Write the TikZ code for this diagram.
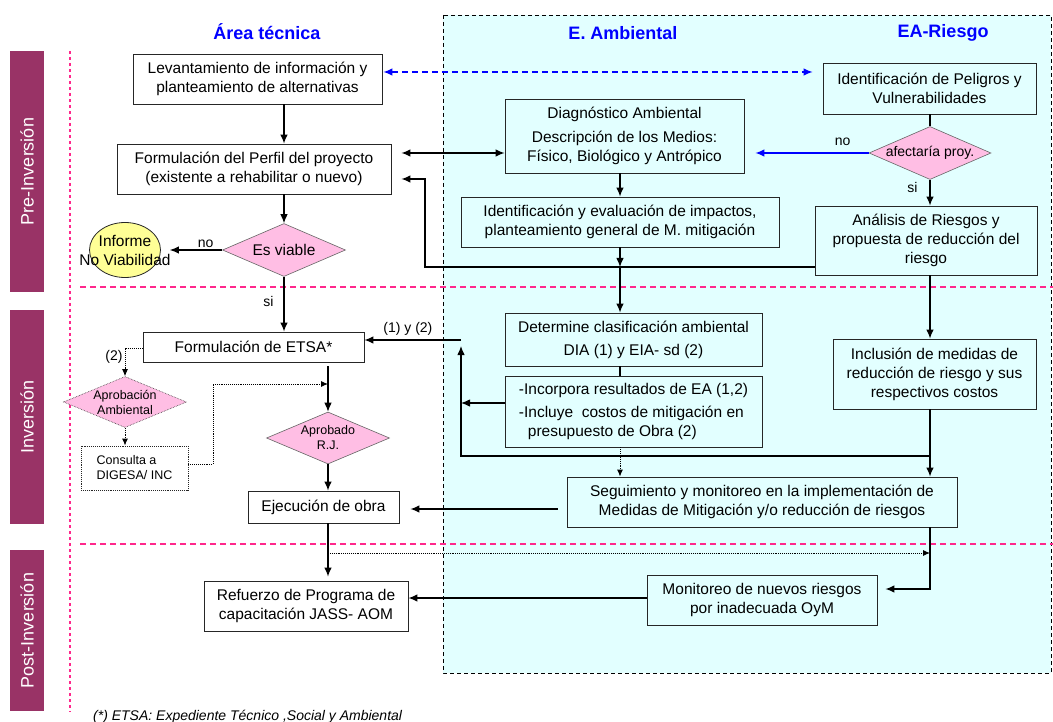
\documentclass[tikz,border=0pt]{standalone}
\usepackage{fontspec}
\setmainfont{Liberation Sans}
\usetikzlibrary{shapes.geometric,positioning,arrows.meta}
\definecolor{mymaroon}{RGB}{153,51,102}
\definecolor{mypink}{RGB}{255,190,228}
\definecolor{mycyan}{RGB}{226,255,255}
\definecolor{myyellow}{RGB}{255,255,150}
\definecolor{mydash}{RGB}{255,40,140}
\definecolor{myblue}{RGB}{0,0,255}
\newcommand{\boxfont}{\fontsize{15.5}{19}\selectfont}
\newcommand{\smallfont}{\fontsize{12.5}{15}\selectfont}
\newcommand{\lblfont}{\fontsize{14}{16}\selectfont}

\begin{document}
\begin{tikzpicture}[x=1pt,y=-1pt,inner sep=0pt,font=\boxfont]
\tikzstyle{box}=[rectangle, draw=black!85, line width=0.9pt, fill=white, align=center]
\tikzstyle{cbox}=[box, fill=mycyan]
\tikzstyle{decision}=[diamond, aspect=2.4, draw=black!60, line width=0.6pt, fill=mypink, align=center]
\tikzstyle{connect}=[-{Latex[length=9pt,width=7.5pt]}, line width=1.1pt]
\tikzstyle{twoway}=[{Latex[length=9pt,width=7.5pt]}-{Latex[length=9pt,width=7.5pt]}, line width=1.1pt]
\tikzstyle{dotconnect}=[-{Latex[length=7pt,width=6pt]}, line width=0.9pt, densely dotted]
\tikzstyle{band}=[rectangle, fill=mymaroon, text=white, rotate=90, minimum height=34pt, font=\fontsize{18}{20}\selectfont]
\tikzstyle{head}=[text=myblue, font=\fontsize{18}{20}\selectfont\bfseries]
\tikzstyle{lbl}=[font=\lblfont]
\tikzstyle{pinkline}=[mydash, line width=1.1pt, dash pattern=on 6pt off 4pt]

% page and areas
\fill[white] (0,0) rectangle (1053,722);
\useasboundingbox (0,0) rectangle (1053,722);
\draw[fill=mycyan, line width=0.8pt, dash pattern=on 4pt off 3pt] (443,15) rectangle (1051,673);

% phases
\node[band, minimum width=241pt] (pre) at (27,171.5) {Pre-Inversión};
\node[band, minimum width=214pt] (inv) at (27,417) {Inversión};
\node[band, minimum width=161pt] (post) at (27,630.5) {Post-Inversión};
\draw[mydash, line width=1.1pt, dash pattern=on 3pt off 3pt] (70,51) -- (70,712);
\draw[pinkline] (80,287) -- (1053,287);
\draw[pinkline] (80,544) -- (1053,544);

% headings
\node[head] (hat) at (267,32) {Área técnica};
\node[head] (hea) at (623,33) {E. Ambiental};
\node[head] (her) at (943,33) {EA-Riesgo};

% area tecnica
\node[box, minimum width=249pt, minimum height=50pt] (lev) at (257.5,79) {Levantamiento de información y\\planteamiento de alternativas};
\node[box, minimum width=274pt, minimum height=50pt] (perf) at (254,169) {Formulación del Perfil del proyecto\\(existente a rehabilitar o nuevo)};
\node[decision, minimum width=123pt, minimum height=53pt] (viab) at (284,250) {Es viable};
\node[ellipse, draw=black!85, line width=0.8pt, fill=myyellow, minimum width=71pt, minimum height=55pt] (inf) at (125,250) {};
\node[align=center] (inft) at (inf) {Informe\\No Viabilidad};
\node[box, minimum width=221pt, minimum height=30pt] (etsa) at (253.5,347) {Formulación de ETSA*};
\node[decision, densely dotted, draw=black!80, minimum width=123pt, minimum height=51pt, font=\smallfont] (apra) at (125,402) {Aprobación\\Ambiental};
\node[box, densely dotted, align=left, minimum width=107pt, minimum height=44pt, font=\smallfont] (cons) at (134.5,468) {Consulta a\\DIGESA/ INC};
\node[decision, minimum width=123pt, minimum height=52pt, font=\smallfont] (aprj) at (328,438) {Aprobado\\R.J.};
\node[box, minimum width=151pt, minimum height=32pt] (ejec) at (323.5,507) {Ejecución de obra};
\node[box, minimum width=204pt, minimum height=50pt] (ref) at (306,606) {Refuerzo de Programa de\\capacitación JASS- AOM};

% E. Ambiental
\node[cbox, minimum width=239pt, minimum height=74pt] (diag) at (624.5,136) {Diagnóstico Ambiental\\[5pt]Descripción de los Medios:\\Físico, Biológico y Antrópico};
\node[cbox, minimum width=318pt, minimum height=50pt] (ideval) at (620,222) {Identificación y evaluación de impactos,\\planteamiento general de M. mitigación};
\node[cbox, minimum width=257pt, minimum height=53pt] (det) at (633.5,339.5) {Determine clasificación ambiental\\[4pt]DIA (1) y EIA- sd (2)};
\node[cbox, minimum width=257pt, minimum height=71pt, align=left] (inc) at (633.5,411.5) {-Incorpora resultados de EA (1,2)\\[4pt]-Incluye\ \ costos de mitigación en\\\hspace{9pt}presupuesto de Obra (2)};
\node[cbox, minimum width=390pt, minimum height=50pt] (seg) at (762,502) {Seguimiento y monitoreo en la implementación de\\Medidas de Mitigación y/o reducción de riesgos};
\node[cbox, minimum width=230pt, minimum height=50pt] (mon) at (762,600) {Monitoreo de nuevos riesgos\\por inadecuada OyM};

% EA-Riesgo
\node[cbox, minimum width=213pt, minimum height=51pt] (pel) at (929.5,88.5) {Identificación de Peligros y\\Vulnerabilidades};
\node[decision, minimum width=122pt, minimum height=53pt, font=\lblfont] (afe) at (930,153) {afectaría proy.};
\node[cbox, minimum width=222pt, minimum height=69pt] (anal) at (926,240.5) {Análisis de Riesgos y\\propuesta de reducción del\\riesgo};
\node[cbox, minimum width=203pt, minimum height=70pt] (incl) at (934.5,374) {Inclusión de medidas de\\reducción de riesgo y sus\\respectivos costos};

\node[anchor=base west, font=\lblfont\itshape] (nota) at (93,720) {(*) ETSA: Expediente Técnico ,Social y Ambiental};

% junctions
\coordinate (jtop) at (461,340);
\coordinate (jmid) at (461,403);
\coordinate (jbot) at (461,456);

% connectors
\draw[twoway, myblue, dash pattern=on 6pt off 4pt, shorten <=1pt, shorten >=10pt] (lev.east |- 0,72) -- (pel.west |- 0,72);
\draw[connect] (lev.south -| viab) -- (perf.north -| viab);
\draw[connect] (perf.south -| viab) -- (viab.north);
\draw[connect, shorten >=9pt] (viab.west) -- (inf.east) node[lbl, pos=0.27, above=2pt] (lno) {no};
\draw[connect] (viab.south) -- (etsa.north -| viab) node[lbl, pos=0.45, left=10pt] (lsi) {si};
\draw[twoway, shorten <=10pt] (perf.east |- 0,153) -- (diag.west |- 0,153);
\draw[connect, shorten >=10pt] (anal.west |- 0,267) -- (425,267) -- (425,179) -- (perf.east |- 0,179);
\draw[connect, myblue, shorten >=11pt] (afe.west) -- (diag.east |- afe.west) node[lbl, black, pos=0.21, above=7pt] (lno2) {no};
\draw[connect] (diag.south -| ideval) -- (ideval.north);
\draw[connect] (ideval.south) -- (ideval.south |- 0,267);
\draw[connect] (ideval.south |- 0,268) -- (det.north -| ideval);
\draw[line width=1.1pt] (det.south -| ideval) -- (inc.north -| ideval);
\draw[connect] ([yshift=8.5pt]inc.west) -- (jmid);
\draw[connect] (afe |- jbot) -- (jbot) -- ([yshift=-6pt]jtop);
\draw[connect] (jtop) -- (etsa.east |- jtop) node[lbl, pos=0.55, above=4pt] (l12) {(1) y (2)};
\draw[line width=1.1pt] (pel.south -| afe) -- (afe.north);
\draw[connect] (afe.south) -- (anal.north -| afe) node[lbl, pos=0.3, left=12pt] (lsi2) {si};
\draw[connect] (anal.south -| afe) -- (incl.north -| afe);
\draw[connect] (incl.south -| afe) -- (seg.north -| afe);
\draw[dotconnect] (inc.south -| ideval) -- (seg.north -| ideval);
\draw[connect, shorten <=9pt, shorten >=11pt] (seg.west |- 0,509) -- (ejec.east |- 0,509);
\draw[connect, shorten <=4pt] (etsa.south -| aprj) -- (aprj.north);
\draw[connect] (aprj.south) -- (ejec.north -| aprj);
\draw[dotconnect] (etsa.west |- 0,348) -- (apra |- 0,348) node[lbl, below left=2pt and 2pt] (l2) {(2)} -- (apra.north);
\draw[dotconnect] (apra.south) -- (cons.north -| apra);
\draw[dotconnect] (cons.east |- 0,464) -- (213,464) -- (213,384) -- (aprj |- 0,384);
\draw[connect, shorten >=4pt] (ejec.south -| aprj) -- (ref.north -| aprj);
\draw[dotconnect] (aprj |- 0,553) -- (afe |- 0,553);
\draw[connect, shorten >=8pt] (seg.south -| afe) -- (afe |- 0,589) -- (mon.east |- 0,589);
\draw[connect] (mon.west |- 0,598) -- (ref.east |- 0,598);
\end{tikzpicture}
\end{document}
